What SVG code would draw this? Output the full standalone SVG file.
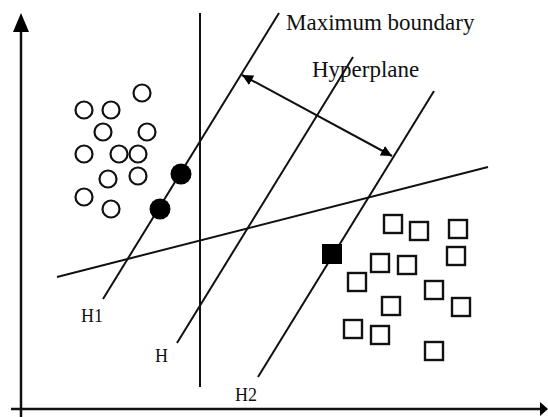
<svg xmlns="http://www.w3.org/2000/svg" width="548" height="417" viewBox="0 0 548 417">
<style>
.ln{stroke:#111;stroke-width:2;fill:none}
.ax{stroke:#111;stroke-width:2.5;fill:none}
.oc{fill:#fff;stroke:#111;stroke-width:2.2}
.os{fill:#fff;stroke:#111;stroke-width:2.4}
.fc{fill:#000}
.t{font-family:"Liberation Serif","Times New Roman",serif;fill:#111}
.big{font-size:23px}
.sm{font-size:18px}
</style>
<defs>
<marker id="ah" viewBox="0 0 10 10" refX="10" refY="5" markerWidth="11" markerHeight="11" markerUnits="userSpaceOnUse" orient="auto-start-reverse">
<path d="M0,0 L10,5 L0,10 Z" fill="#000"/>
</marker>
</defs>
<g id="axes">
<line class="ax" x1="21" y1="28" x2="21" y2="417"/>
<path d="M21,13 L29,32 L13,32 Z" fill="#000"/>
<line class="ax" x1="11" y1="409" x2="542" y2="409"/>
<path d="M548,409 L540,402 L540,416 Z" fill="#000"/>
</g>
<g id="connectors">
<line id="vertical" class="ln" x1="200" y1="13" x2="200" y2="387"/>
<line id="H1-line" class="ln" x1="103" y1="299" x2="279" y2="13"/>
<line id="H-line" class="ln" x1="177" y1="343" x2="353" y2="57"/>
<line id="H2-line" class="ln" x1="258" y1="377" x2="434" y2="91"/>
<line id="cross-line" class="ln" x1="57" y1="277" x2="488" y2="167"/>
<line id="margin-arrow" class="ln" x1="242" y1="75" x2="392" y2="156" marker-start="url(#ah)" marker-end="url(#ah)"/>
</g>
<g id="labels">
<text class="t big" x="286" y="30">Maximum boundary</text>
<text class="t big" x="312" y="77">Hyperplane</text>
<text id="H1" class="t sm" x="81" y="322">H1</text>
<text id="H" class="t sm" x="155" y="362">H</text>
<text id="H2" class="t sm" x="235" y="401">H2</text>
</g>
<g id="circles">
<circle class="oc" cx="142" cy="93" r="8.5"/>
<circle class="oc" cx="84" cy="110" r="8.5"/>
<circle class="oc" cx="111" cy="110" r="8.5"/>
<circle class="oc" cx="103" cy="132" r="8.5"/>
<circle class="oc" cx="147" cy="132" r="8.5"/>
<circle class="oc" cx="84" cy="154" r="8.5"/>
<circle class="oc" cx="119" cy="154" r="8.5"/>
<circle class="oc" cx="138" cy="154" r="8.5"/>
<circle class="oc" cx="108" cy="179" r="8.5"/>
<circle class="oc" cx="138" cy="176" r="8.5"/>
<circle class="oc" cx="84" cy="197" r="8.5"/>
<circle class="oc" cx="111" cy="209" r="8.5"/>
<circle class="fc" cx="181" cy="174" r="10.5"/>
<circle class="fc" cx="160" cy="209" r="10.5"/>
</g>
<g id="squares">
<rect class="os" x="384" y="215" width="18" height="18"/>
<rect class="os" x="410" y="222" width="18" height="18"/>
<rect class="os" x="449" y="220" width="18" height="18"/>
<rect class="os" x="447" y="247" width="18" height="18"/>
<rect class="os" x="371" y="254" width="18" height="18"/>
<rect class="os" x="398" y="256" width="18" height="18"/>
<rect class="os" x="348" y="273" width="18" height="18"/>
<rect class="os" x="425" y="281" width="18" height="18"/>
<rect class="os" x="382" y="297" width="18" height="18"/>
<rect class="os" x="452" y="298" width="18" height="18"/>
<rect class="os" x="344" y="320" width="18" height="18"/>
<rect class="os" x="371" y="326" width="18" height="18"/>
<rect class="os" x="425" y="342" width="18" height="18"/>
<rect class="fc" x="322" y="244" width="20" height="20"/>
</g>
</svg>
